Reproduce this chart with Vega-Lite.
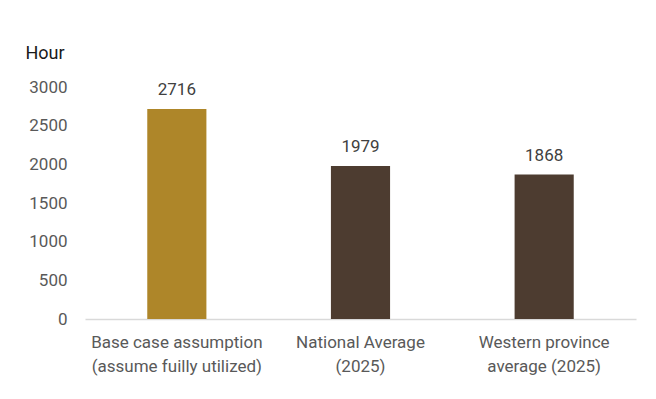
{
  "$schema": "https://vega.github.io/schema/vega-lite/v6.json",
  "width": 551,
  "height": 232,
  "autosize": {"type": "none"},
  "padding": {"left": 85, "top": 87, "right": 20, "bottom": 80},
  "background": "white",
  "config": {
    "view": {"stroke": null},
    "font": "Roboto"
  },
  "data": {
    "values": [
      {"case": "Base case assumption\n(assume fuilly utilized)", "hours": 2716, "kind": "base"},
      {"case": "National Average\n(2025)", "hours": 1979, "kind": "actual"},
      {"case": "Western province\naverage (2025)", "hours": 1868, "kind": "actual"}
    ]
  },
  "encoding": {
    "x": {
      "field": "case",
      "type": "nominal",
      "sort": null,
      "scale": {"paddingInner": 0.678, "paddingOuter": 0.339},
      "axis": {
        "title": null,
        "labelAngle": 0,
        "labelExpr": "split(datum.label, '\\n')",
        "labelFontSize": 17,
        "labelColor": "#595959",
        "labelLineHeight": 24,
        "labelBaseline": "top",
        "labelPadding": 15,
        "ticks": false,
        "domainColor": "#d9d9d9",
        "domainWidth": 1.5
      }
    },
    "y": {
      "field": "hours",
      "type": "quantitative",
      "scale": {"domain": [0, 3000]},
      "axis": {
        "title": "Hour",
        "titleAngle": 0,
        "titleAlign": "left",
        "titleBaseline": "middle",
        "titleX": -60,
        "titleY": -34,
        "titleFontSize": 18,
        "titleFontWeight": "normal",
        "titleColor": "#1a1a1a",
        "values": [0, 500, 1000, 1500, 2000, 2500, 3000],
        "format": "d",
        "labelFontSize": 17,
        "labelColor": "#595959",
        "labelPadding": 18,
        "ticks": false,
        "domain": false,
        "grid": false
      }
    }
  },
  "layer": [
    {
      "mark": {"type": "bar"},
      "encoding": {
        "color": {
          "field": "kind",
          "type": "nominal",
          "scale": {"domain": ["base", "actual"], "range": ["#AE8629", "#4D3C30"]},
          "legend": null
        }
      }
    },
    {
      "mark": {"type": "text", "baseline": "alphabetic", "dy": -14, "fontSize": 17, "color": "#404040"},
      "encoding": {"text": {"field": "hours", "type": "quantitative", "format": "d"}}
    }
  ]
}
